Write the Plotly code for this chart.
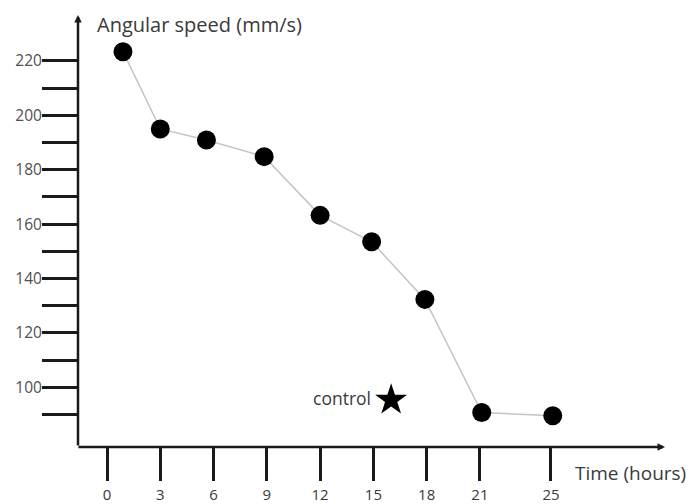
import plotly.graph_objects as go

# Data
time_hours = [0.9, 3.0, 5.6, 8.85, 12.0, 14.9, 17.9, 21.1, 25.1]
angular_speed = [223.4, 195.0, 190.9, 184.8, 163.2, 153.5, 132.3, 90.7, 89.5]
control_time = [16.0]
control_speed = [95.3]
control_label = "control"

x_tick_vals = [0, 3, 6, 9, 12, 15, 18, 21, 25]
x_tick_text = ["0", "3", "6", "9", "12", "15", "18", "21", "25"]
y_major_vals = [100, 120, 140, 160, 180, 200, 220]
y_minor_vals = [90, 110, 130, 150, 170, 190, 210]

X_RANGE = [-1.633, 31.42]
Y_RANGE = [78.0, 236.9]

FONT = "Open Sans"
AX = "#1a1a1a"
TXT = "#3a3a3a"

fig = go.Figure()
fig.add_trace(go.Scatter(
    x=time_hours, y=angular_speed, mode="lines+markers",
    line=dict(color="#c4c4c4", width=1.5),
    marker=dict(size=19, color="black"),
    cliponaxis=False, showlegend=False,
))
fig.add_trace(go.Scatter(
    x=control_time, y=control_speed, mode="markers",
    marker=dict(symbol="star", size=24, color="black"),
    cliponaxis=False, showlegend=False,
))
fig.add_annotation(x=control_time[0], y=control_speed[0], xref="x", yref="y",
                   text=control_label, showarrow=False, xanchor="right", yanchor="middle",
                   xshift=-18, yshift=2,
                   font=dict(family=FONT, size=17.5, color=TXT))

# axis arrows
fig.add_annotation(x=X_RANGE[0], y=Y_RANGE[1], ax=X_RANGE[0], ay=Y_RANGE[0],
                   xref="x", yref="y", axref="x", ayref="y", text="",
                   showarrow=True, arrowhead=2, arrowsize=0.6, arrowwidth=2.5, arrowcolor=AX)
fig.add_annotation(x=X_RANGE[1], y=Y_RANGE[0], ax=X_RANGE[0] - 0.06, ay=Y_RANGE[0],
                   xref="x", yref="y", axref="x", ayref="y", text="",
                   showarrow=True, arrowhead=2, arrowsize=0.6, arrowwidth=2.5, arrowcolor=AX)

fig.add_annotation(x=0.029, y=0.977, xref="paper", yref="paper", text="Angular speed (mm/s)",
                   showarrow=False, xanchor="left", yanchor="middle",
                   font=dict(family=FONT, size=20, color=TXT))
fig.add_annotation(x=0.843, y=-0.06, xref="paper", yref="paper", text="Time (hours)",
                   showarrow=False, xanchor="left", yanchor="middle",
                   font=dict(family=FONT, size=19, color=TXT))

# The page body has an 8px default margin, so margins are offset by 8px.
fig.update_layout(
    width=697, height=504,
    margin=dict(l=70, r=40, t=7, b=65, autoexpand=False),
    paper_bgcolor="white", plot_bgcolor="white",
    xaxis=dict(range=X_RANGE, showgrid=False, zeroline=False, showline=False,
               automargin=False,
               tickmode="array", tickvals=x_tick_vals, ticktext=x_tick_text,
               ticks="outside", ticklen=33, tickwidth=2.5, tickcolor=AX,
               ticklabelstandoff=1,
               tickfont=dict(family=FONT, size=15, color=TXT)),
    yaxis=dict(range=Y_RANGE, showgrid=False, zeroline=False, showline=False,
               automargin=False,
               tickmode="array", tickvals=y_major_vals,
               ticktext=[str(v) for v in y_major_vals],
               ticks="outside", ticklen=35, tickwidth=2.5, tickcolor=AX,
               ticklabelstandoff=-3,
               tickfont=dict(family=FONT, size=15.5, color="#505050"),
               minor=dict(tickmode="array", tickvals=y_minor_vals, ticks="outside",
                          ticklen=35, tickwidth=2.5, tickcolor=AX)),
)

fig.write_html("out.html")
